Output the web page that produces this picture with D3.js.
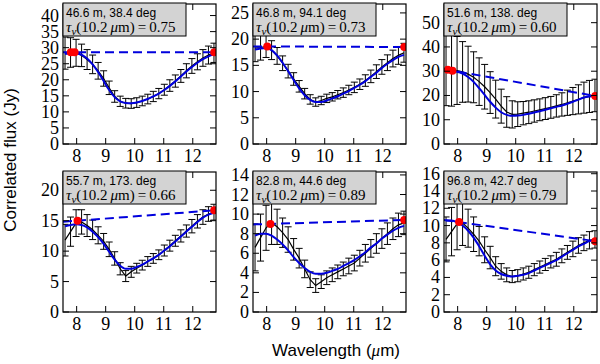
<!DOCTYPE html>
<html>
<head>
<meta charset="utf-8">
<script src="https://cdn.jsdelivr.net/npm/d3@7"></script>
<style>
  body { margin: 0; background: #fff; }
  svg { display: block; }
</style>
</head>
<body>
<svg id="chart" width="600" height="364"></svg>
<script>
// wavelength grid of the measurements (micron), shared by all panels
let wavelength = [7.60, 7.79, 7.98, 8.17, 8.36, 8.55, 8.74, 8.93, 9.12, 9.31, 9.50, 9.69, 9.88, 10.07,
                  10.26, 10.45, 10.64, 10.83, 11.02, 11.21, 11.40, 11.59, 11.78, 11.97, 12.16, 12.35, 12.54, 12.73];

// measured correlated flux (Jy), one array per baseline
let flux1 = [28.3, 28.5, 28.4, 27.6, 26.3, 24.8, 22.8, 20.4, 17.5, 14.8, 13.3, 12.7, 12.6, 12.9,
             13.4, 14.0, 14.8, 15.7, 16.9, 18.2, 19.6, 21.2, 22.8, 24.3, 25.6, 26.8, 27.7, 28.4];
let flux2 = [18.3, 18.4, 18.6, 17.9, 16.8, 15.4, 13.9, 12.4, 11.0, 9.6, 8.5, 8.0, 8.3, 8.7,
             9.0, 9.4, 9.8, 10.3, 10.8, 11.4, 12.1, 12.9, 13.8, 14.7, 15.5, 16.3, 16.9, 17.4];
let flux3 = [30.8, 30.6, 30.3, 29.7, 28.8, 27.5, 25.7, 23.6, 21.2, 18.5, 15.6, 13.2, 12.2, 12.3,
             12.7, 13.1, 13.6, 14.1, 14.6, 15.1, 15.7, 16.3, 17.0, 17.7, 18.4, 19.1, 19.6, 20.0];
let flux4 = [11.8, 13.2, 14.6, 14.8, 14.2, 13.5, 12.6, 11.6, 10.3, 8.8, 7.1, 5.9, 6.6, 7.2,
             7.7, 8.3, 8.8, 9.4, 10.1, 10.9, 11.7, 12.5, 13.3, 14.1, 14.9, 15.6, 16.1, 16.4];
let flux5 = [6.6, 7.6, 8.6, 9.1, 8.7, 8.1, 7.4, 6.4, 5.5, 4.4, 3.3, 2.7, 3.1, 3.5,
             3.8, 4.1, 4.4, 4.7, 5.0, 5.5, 6.0, 6.5, 7.0, 7.5, 8.0, 8.5, 8.9, 9.1];
let flux6 = [8.4, 9.3, 10.2, 10.3, 9.7, 9.0, 8.2, 7.2, 6.3, 5.3, 4.7, 4.3, 4.1, 4.2,
             4.4, 4.6, 4.9, 5.2, 5.5, 5.8, 6.1, 6.5, 6.9, 7.3, 7.7, 8.0, 8.3, 8.4];

// flux errors (Jy)
let err1 = [5.0, 4.6, 4.2, 3.5, 3.1, 2.9, 2.6, 2.4, 2.1, 1.8, 1.6, 1.5, 1.5, 1.5,
            1.5, 1.5, 1.6, 1.6, 1.7, 1.8, 1.9, 2.0, 2.2, 2.3, 2.5, 2.6, 2.8, 3.0];
let err2 = [2.6, 2.4, 2.1, 1.8, 1.6, 1.4, 1.3, 1.2, 1.1, 1.0, 0.9, 0.8, 0.8, 0.8,
            0.8, 0.8, 0.9, 0.9, 1.0, 1.0, 1.1, 1.2, 1.3, 1.4, 1.5, 1.6, 1.7, 1.8];
let err3 = [15.0, 15.0, 14.0, 12.5, 11.5, 10.5, 9.8, 9.2, 8.6, 7.8, 7.0, 6.3, 5.6, 5.1,
            4.8, 4.7, 4.6, 4.5, 4.5, 4.5, 4.6, 4.8, 5.2, 5.6, 6.0, 6.4, 6.6, 6.7];
let err4 = [2.6, 2.4, 2.2, 2.0, 1.8, 1.6, 1.4, 1.3, 1.2, 1.1, 1.0, 0.9, 0.9, 0.8,
            0.8, 0.8, 0.8, 0.8, 0.9, 0.9, 0.9, 1.0, 1.0, 1.1, 1.1, 1.2, 1.2, 1.3];
let err5 = [2.4, 2.4, 2.3, 2.2, 1.8, 1.5, 1.3, 1.1, 1.0, 0.9, 0.8, 0.7, 0.7, 0.7,
            0.7, 0.7, 0.7, 0.8, 0.8, 0.8, 0.9, 0.9, 1.0, 1.0, 1.1, 1.1, 1.2, 1.2];
let err6 = [2.6, 2.8, 3.0, 2.6, 2.2, 2.0, 1.7, 1.5, 1.3, 1.1, 0.9, 0.8, 0.7, 0.7,
            0.7, 0.7, 0.7, 0.7, 0.7, 0.7, 0.8, 0.8, 0.8, 0.9, 0.9, 0.9, 1.0, 1.0];

// model fits (blue solid curve)
let model1 = [28.0, 28.3, 28.3, 27.8, 26.6, 24.8, 22.4, 19.6, 16.8, 14.6, 13.3, 12.8, 12.7, 12.9,
              13.4, 14.0, 14.8, 15.7, 16.8, 18.1, 19.5, 21.0, 22.6, 24.0, 25.3, 26.4, 27.3, 27.9];
let model2 = [18.0, 18.2, 18.3, 17.9, 16.9, 15.5, 13.9, 12.2, 10.6, 9.3, 8.4, 8.0, 8.0, 8.3,
              8.7, 9.1, 9.6, 10.1, 10.7, 11.3, 12.0, 12.8, 13.6, 14.5, 15.3, 16.0, 16.6, 17.0];
let model3 = [30.2, 30.1, 29.8, 29.0, 27.6, 25.6, 23.0, 20.2, 17.4, 15.0, 13.1, 12.0, 11.6, 11.7,
              12.0, 12.5, 13.0, 13.5, 14.1, 14.7, 15.3, 15.9, 16.6, 17.4, 18.3, 19.2, 19.6, 19.8];
let model4 = [14.1, 14.3, 14.4, 14.3, 13.9, 13.2, 12.3, 11.2, 9.9, 8.6, 7.6, 7.1, 7.1, 7.4,
              7.8, 8.3, 8.8, 9.4, 10.1, 10.8, 11.6, 12.4, 13.2, 14.0, 14.8, 15.5, 16.0, 16.3];
let model5 = [7.8, 8.0, 8.0, 7.8, 7.4, 6.9, 6.3, 5.6, 5.0, 4.5, 4.1, 3.9, 3.9, 4.0,
              4.2, 4.4, 4.7, 5.0, 5.3, 5.7, 6.1, 6.6, 7.0, 7.5, 7.9, 8.3, 8.6, 8.8];
let model6 = [10.6, 10.6, 10.4, 10.0, 9.4, 8.6, 7.6, 6.5, 5.5, 4.8, 4.4, 4.2, 4.1, 4.2,
              4.3, 4.5, 4.8, 5.1, 5.4, 5.7, 6.0, 6.4, 6.8, 7.2, 7.6, 7.9, 8.2, 8.3];

// continuum anchors (red points) and their fluxes
let contLeftX = [[7.80, 7.93], [8.02], [7.66, 7.82], [8.03], [8.13], [8.05]];
let contRightX = [12.74, 12.74, 12.74, 12.74, 12.74, 12.74];
let contLeftY = [28.6, 18.6, 30.4, 15.0, 9.0, 10.4];
let contRightY = [28.6, 18.5, 19.8, 16.7, 9.4, 8.2];

// panel labels
let baselines = ["46.6 m, 38.4 deg", "46.8 m, 94.1 deg", "51.6 m, 138. deg",
                 "55.7 m, 173. deg", "82.8 m, 44.6 deg", "96.8 m, 42.7 deg"];
let tau = ["0.75", "0.73", "0.60", "0.66", "0.89", "0.79"];

// axis ranges
let xDomain = [7.53, 12.8];
let xTicks = [8, 9, 10, 11, 12];
let yMax = [43.6, 26.7, 57.7, 23.0, 14.3, 16.2];
let yStep = [5, 5, 10, 5, 2, 2];

let fluxes = [flux1, flux2, flux3, flux4, flux5, flux6];
let errors = [err1, err2, err3, err4, err5, err6];
let models = [model1, model2, model3, model4, model5, model6];

let svg = d3.select("#chart");
let colLeft = [63, 253, 444];
let rowTop = [4, 172];
let w = 153, h = 140;
let serif = "'Liberation Serif', 'Times New Roman', serif";
let sans = "'Liberation Sans', Arial, sans-serif";
let blue = "#0000dd";

for (let i = 0; i < 6; i++) {
    let left = colLeft[i % 3], top = rowTop[Math.floor(i / 3)];
    let g = svg.append("g").attr("transform", "translate(" + left + "," + top + ")");

    let x = d3.scaleLinear().domain(xDomain).range([0, w]);
    let y = d3.scaleLinear().domain([0, yMax[i]]).range([h, 0]);

    g.append("clipPath").attr("id", "clip" + i)
        .append("rect").attr("width", w).attr("height", h);
    let plot = g.append("g").attr("clip-path", "url(#clip" + i + ")");

    let pts = wavelength.map(function (wl, k) {
        return { wl: wl, f: fluxes[i][k], e: errors[i][k], m: models[i][k] };
    });

    //Error bars with caps
    let bars = plot.selectAll(".bar").data(pts).enter().append("g");
    bars.append("line")
        .attr("x1", d => x(d.wl)).attr("x2", d => x(d.wl))
        .attr("y1", d => y(d.f - d.e)).attr("y2", d => y(d.f + d.e))
        .attr("stroke", "#000").attr("stroke-width", 1);
    [-1, 1].forEach(function (s) {
        bars.append("line")
            .attr("x1", d => x(d.wl) - 3.5).attr("x2", d => x(d.wl) + 3.5)
            .attr("y1", d => y(d.f + s * d.e)).attr("y2", d => y(d.f + s * d.e))
            .attr("stroke", "#000").attr("stroke-width", 1);
    });

    //Measured flux
    plot.append("path").datum(pts)
        .attr("d", d3.line().x(d => x(d.wl)).y(d => y(d.f)))
        .attr("fill", "none").attr("stroke", "#000").attr("stroke-width", 1.2);

    //Model
    plot.append("path").datum(pts)
        .attr("d", d3.line().curve(d3.curveMonotoneX).x(d => x(d.wl)).y(d => y(d.m)))
        .attr("fill", "none").attr("stroke", blue).attr("stroke-width", 2);

    //Continuum line through the two anchors, extended to the axis edges
    let xa = d3.mean(contLeftX[i]), xb = contRightX[i];
    let slope = (contRightY[i] - contLeftY[i]) / (xb - xa);
    let cont = xDomain.map(v => ({ wl: v, f: contLeftY[i] + slope * (v - xa) }));
    plot.append("path").datum(cont)
        .attr("d", d3.line().x(d => x(d.wl)).y(d => y(d.f)))
        .attr("fill", "none").attr("stroke", blue).attr("stroke-width", 2)
        .attr("stroke-dasharray", "9,5");

    //Red anchor points
    let reds = contLeftX[i].map(v => ({ wl: v, f: contLeftY[i] + slope * (v - xa) }));
    reds.push({ wl: xb, f: contRightY[i] });
    plot.selectAll(".red").data(reds).enter().append("circle")
        .attr("cx", d => x(d.wl)).attr("cy", d => y(d.f)).attr("r", 4)
        .attr("fill", "#ff0000");

    //Ticks pointing inwards on all four sides
    let yTicks = d3.range(0, yMax[i] + 0.001, yStep[i]);
    g.selectAll(".xt").data(xTicks).enter().append("path")
        .attr("d", d => "M" + x(d) + "," + h + "v-6M" + x(d) + ",0v6")
        .attr("stroke", "#000");
    g.selectAll(".yt").data(yTicks).enter().append("path")
        .attr("d", d => "M0," + y(d) + "h6M" + w + "," + y(d) + "h-6")
        .attr("stroke", "#000");

    g.selectAll(".xl").data(xTicks).enter().append("text")
        .attr("x", d => x(d)).attr("y", h + 18)
        .attr("text-anchor", "middle")
        .style("font-family", serif).style("font-size", "18px")
        .text(d => d);
    g.selectAll(".yl").data(yTicks).enter().append("text")
        .attr("x", -4).attr("y", d => y(d) + 6)
        .attr("text-anchor", "end")
        .style("font-family", serif).style("font-size", "18px")
        .text(d => d);

    g.append("rect").attr("width", w).attr("height", h)
        .attr("fill", "none").attr("stroke", "#000").attr("stroke-width", 1.2);

    //Label box
    g.append("rect").attr("x", 0).attr("y", -1).attr("width", 123).attr("height", 33)
        .attr("fill", "#d3d3d3").attr("stroke", "#000").attr("stroke-width", 1);
    g.append("text").attr("x", 3).attr("y", 13)
        .style("font-family", sans).style("font-size", "12px")
        .text(baselines[i]);
    let t = g.append("text").attr("x", 3).attr("y", 27.5)
        .style("font-family", serif).style("font-size", "15px");
    t.append("tspan").style("font-style", "italic").text("τ");
    t.append("tspan").style("font-style", "italic").style("font-size", "11px").attr("dy", 3).text("ν");
    t.append("tspan").attr("dy", -3).text("(10.2\u2009");
    t.append("tspan").style("font-style", "italic").text("μ");
    t.append("tspan").text("m)\u2009=\u2009" + tau[i]);
}

//Shared axis labels
svg.append("text")
    .attr("transform", "translate(16,160) rotate(-90)")
    .attr("text-anchor", "middle")
    .style("font-family", sans).style("font-size", "17px")
    .text("Correlated flux (Jy)");
let xl = svg.append("text").attr("x", 336).attr("y", 356)
    .attr("text-anchor", "middle")
    .style("font-family", sans).style("font-size", "17px");
xl.append("tspan").text("Wavelength (");
xl.append("tspan").style("font-family", serif).style("font-style", "italic").text("μ");
xl.append("tspan").text("m)");
</script>
</body>
</html>
